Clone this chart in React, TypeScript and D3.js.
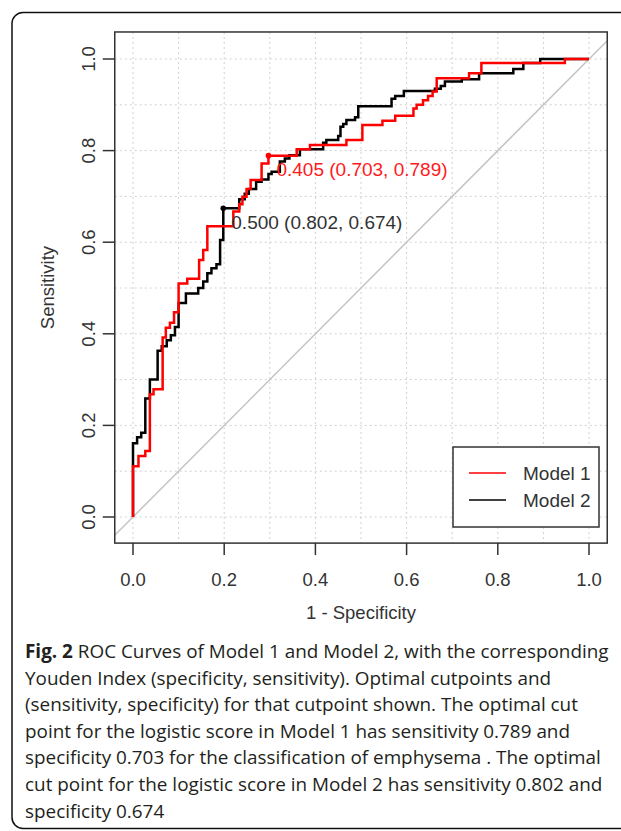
import React, { useEffect, useRef } from "react";
import * as d3 from "d3";

// ROC step vertices: at each point the curve moves right to fpr, then up to tpr
const model1Fpr = [0, 0, 0.012, 0.027, 0.037, 0.045, 0.065, 0.072, 0.081, 0.09, 0.1, 0.119, 0.145, 0.154, 0.163, 0.22, 0.233, 0.24, 0.249, 0.258, 0.282, 0.297, 0.359, 0.388, 0.468, 0.503, 0.547, 0.575, 0.615, 0.622, 0.636, 0.647, 0.657, 0.666, 0.737, 0.764, 0.947, 1.0];
const model1Tpr = [0, 0.111, 0.133, 0.144, 0.268, 0.279, 0.392, 0.413, 0.424, 0.447, 0.51, 0.52, 0.561, 0.583, 0.635, 0.667, 0.683, 0.699, 0.716, 0.736, 0.772, 0.789, 0.803, 0.812, 0.823, 0.856, 0.865, 0.876, 0.892, 0.9, 0.91, 0.919, 0.929, 0.958, 0.969, 0.991, 1.0, 1.0];

const model2Fpr = [0, 0, 0.009, 0.018, 0.027, 0.037, 0.054, 0.063, 0.074, 0.083, 0.092, 0.1, 0.116, 0.143, 0.154, 0.163, 0.172, 0.183, 0.191, 0.198, 0.233, 0.245, 0.254, 0.27, 0.282, 0.297, 0.304, 0.322, 0.333, 0.343, 0.366, 0.417, 0.424, 0.45, 0.455, 0.461, 0.468, 0.487, 0.494, 0.567, 0.575, 0.594, 0.662, 0.675, 0.684, 0.721, 0.759, 0.834, 0.856, 0.893, 1.0];
const model2Tpr = [0, 0.161, 0.174, 0.184, 0.259, 0.3, 0.363, 0.373, 0.386, 0.397, 0.415, 0.467, 0.488, 0.5, 0.514, 0.532, 0.543, 0.552, 0.605, 0.674, 0.694, 0.706, 0.716, 0.732, 0.737, 0.749, 0.754, 0.776, 0.783, 0.79, 0.803, 0.817, 0.823, 0.832, 0.852, 0.858, 0.867, 0.873, 0.897, 0.913, 0.919, 0.93, 0.935, 0.941, 0.951, 0.956, 0.969, 0.978, 0.991, 1.0, 1.0];

const seriesNames = ["Model 1", "Model 2"];
const seriesColors = ["#ff0000", "#000000"];

// optimal cutpoints: threshold, specificity, sensitivity
const cutThresholds = ["0.405", "0.500"];
const cutSpecificity = [0.703, 0.802];
const cutSensitivity = [0.789, 0.674];

const axisTicks = [0, 0.2, 0.4, 0.6, 0.8, 1.0];
const gridValues = d3.range(0, 11).map((i) => i / 10);

const captionLines = [
  " ROC Curves of Model 1 and Model 2, with the corresponding",
  "Youden Index (specificity, sensitivity). Optimal cutpoints and",
  "(sensitivity, specificity) for that cutpoint shown. The optimal cut",
  "point for the logistic score in Model 1 has sensitivity 0.789 and",
  "specificity 0.703 for the classification of emphysema . The optimal",
  "cut point for the logistic score in Model 2 has sensitivity 0.802 and",
  "specificity 0.674",
];

const W = 621;
const H = 831;
const AXIS_FONT = "'Liberation Sans', Arial, sans-serif";
const AXIS_COL = "#333";

const RocChart = () => {
  const ref = useRef<SVGSVGElement>(null);

  useEffect(() => {
    const svg = d3.select(ref.current);
    svg.selectAll("*").remove();

    const x = d3.scaleLinear().domain([0, 1]).range([133, 589]);
    const y = d3.scaleLinear().domain([0, 1]).range([517, 59]);
    const x0 = x(-0.04), x1 = x(1.04);
    const yB = y(-0.057), yT = y(1.059);

    // outer figure frame (cropped on the right)
    svg.append("rect")
      .attr("x", 12).attr("y", 12.5)
      .attr("width", 700).attr("height", 816)
      .attr("rx", 11)
      .attr("fill", "white")
      .attr("stroke", "#111").attr("stroke-width", 1.5);

    // grid
    const grid = svg.append("g")
      .attr("stroke", "#d0d0d0")
      .attr("stroke-width", 1)
      .attr("stroke-dasharray", "2,3");
    grid.selectAll("line.v").data(gridValues).join("line")
      .attr("class", "v")
      .attr("x1", (d) => x(d)).attr("x2", (d) => x(d))
      .attr("y1", yT).attr("y2", yB);
    grid.selectAll("line.h").data(gridValues).join("line")
      .attr("class", "h")
      .attr("y1", (d) => y(d)).attr("y2", (d) => y(d))
      .attr("x1", x0).attr("x2", x1);

    // chance diagonal
    svg.append("line")
      .attr("x1", x(-0.04)).attr("y1", y(-0.04))
      .attr("x2", x(1.04)).attr("y2", y(1.04))
      .attr("stroke", "#c4c4c4").attr("stroke-width", 1.5);

    const line = d3.line<[number, number]>()
      .x((d) => x(d[0]))
      .y((d) => y(d[1]))
      .curve(d3.curveStepAfter);

    const series = [
      d3.zip(model2Fpr, model2Tpr) as [number, number][],
      d3.zip(model1Fpr, model1Tpr) as [number, number][],
    ];
    const order = [1, 0];
    order.forEach((si, k) => {
      svg.append("path")
        .datum(series[k])
        .attr("d", line)
        .attr("fill", "none")
        .attr("stroke", seriesColors[si])
        .attr("stroke-width", 2.5)
        .attr("stroke-linejoin", "miter");
    });

    // cutpoints (model 2 first so model 1 lies on top)
    [1, 0].forEach((i) => {
      const px = x(1 - cutSpecificity[i]);
      const py = y(cutSensitivity[i]);
      const col = i === 0 ? "#ff1a1a" : "#333";
      svg.append("circle")
        .attr("cx", px).attr("cy", py).attr("r", 2.8)
        .attr("fill", i === 0 ? "#ff0000" : "#000");
      svg.append("text")
        .attr("x", px + 8).attr("y", py + 14)
        .attr("dominant-baseline", "central")
        .attr("font-family", AXIS_FONT)
        .attr("font-size", 19)
        .attr("fill", col)
        .text(`${cutThresholds[i]} (${cutSpecificity[i].toFixed(3)}, ${cutSensitivity[i].toFixed(3)})`);
    });

    // plot box
    svg.append("rect")
      .attr("x", x0).attr("y", yT)
      .attr("width", x1 - x0).attr("height", yB - yT)
      .attr("fill", "none")
      .attr("stroke", AXIS_COL).attr("stroke-width", 1.5);

    // x axis
    const xa = svg.append("g").attr("font-family", AXIS_FONT).attr("font-size", 18.5).attr("fill", AXIS_COL);
    xa.selectAll("line").data(axisTicks).join("line")
      .attr("x1", (d) => x(d)).attr("x2", (d) => x(d))
      .attr("y1", yB).attr("y2", yB + 12)
      .attr("stroke", AXIS_COL).attr("stroke-width", 1.5);
    xa.selectAll("text").data(axisTicks).join("text")
      .attr("x", (d) => x(d)).attr("y", 579)
      .attr("text-anchor", "middle")
      .attr("dominant-baseline", "central")
      .text((d) => d.toFixed(1));
    xa.append("text")
      .attr("x", (x0 + x1) / 2).attr("y", 612)
      .attr("text-anchor", "middle")
      .attr("dominant-baseline", "central")
      .text("1 - Specificity");

    // y axis
    const ya = svg.append("g").attr("font-family", AXIS_FONT).attr("font-size", 18.5).attr("fill", AXIS_COL);
    ya.selectAll("line").data(axisTicks).join("line")
      .attr("y1", (d) => y(d)).attr("y2", (d) => y(d))
      .attr("x1", x0).attr("x2", x0 - 12)
      .attr("stroke", AXIS_COL).attr("stroke-width", 1.5);
    ya.selectAll("text").data(axisTicks).join("text")
      .attr("transform", (d) => `translate(88,${y(d)}) rotate(-90)`)
      .attr("text-anchor", "middle")
      .attr("dominant-baseline", "central")
      .text((d) => d.toFixed(1));
    ya.append("text")
      .attr("transform", `translate(47,${(yT + yB) / 2}) rotate(-90)`)
      .attr("text-anchor", "middle")
      .attr("dominant-baseline", "central")
      .text("Sensitivity");

    // legend
    const lg = svg.append("g").attr("transform", "translate(453,447)");
    lg.append("rect")
      .attr("width", 146).attr("height", 80)
      .attr("fill", "white")
      .attr("stroke", AXIS_COL).attr("stroke-width", 1.5);
    seriesNames.forEach((name, i) => {
      const ly = 26 + i * 27;
      lg.append("line")
        .attr("x1", 16).attr("x2", 53)
        .attr("y1", ly).attr("y2", ly)
        .attr("stroke", seriesColors[i]).attr("stroke-width", 1.5);
      lg.append("text")
        .attr("x", 70).attr("y", ly)
        .attr("dominant-baseline", "central")
        .attr("font-family", AXIS_FONT)
        .attr("font-size", 19)
        .attr("fill", AXIS_COL)
        .text(name);
    });

    // caption
    const cap = svg.append("g")
      .attr("font-family", "'Open Sans', 'Noto Sans', sans-serif")
      .attr("font-size", 18.9)
      .attr("fill", "#231f20");
    captionLines.forEach((ln, i) => {
      const t = cap.append("text").attr("x", 25).attr("y", 658 + i * 26.6);
      if (i === 0) {
        t.append("tspan").attr("font-weight", "bold").text("Fig. 2");
      }
      t.append("tspan").text(ln);
    });
  }, []);

  return (
    <svg
      ref={ref}
      width={W}
      height={H}
      style={{ position: "absolute", left: 0, top: 0, background: "white" }}
    />
  );
};

export default function App() {
  return <RocChart />;
}
